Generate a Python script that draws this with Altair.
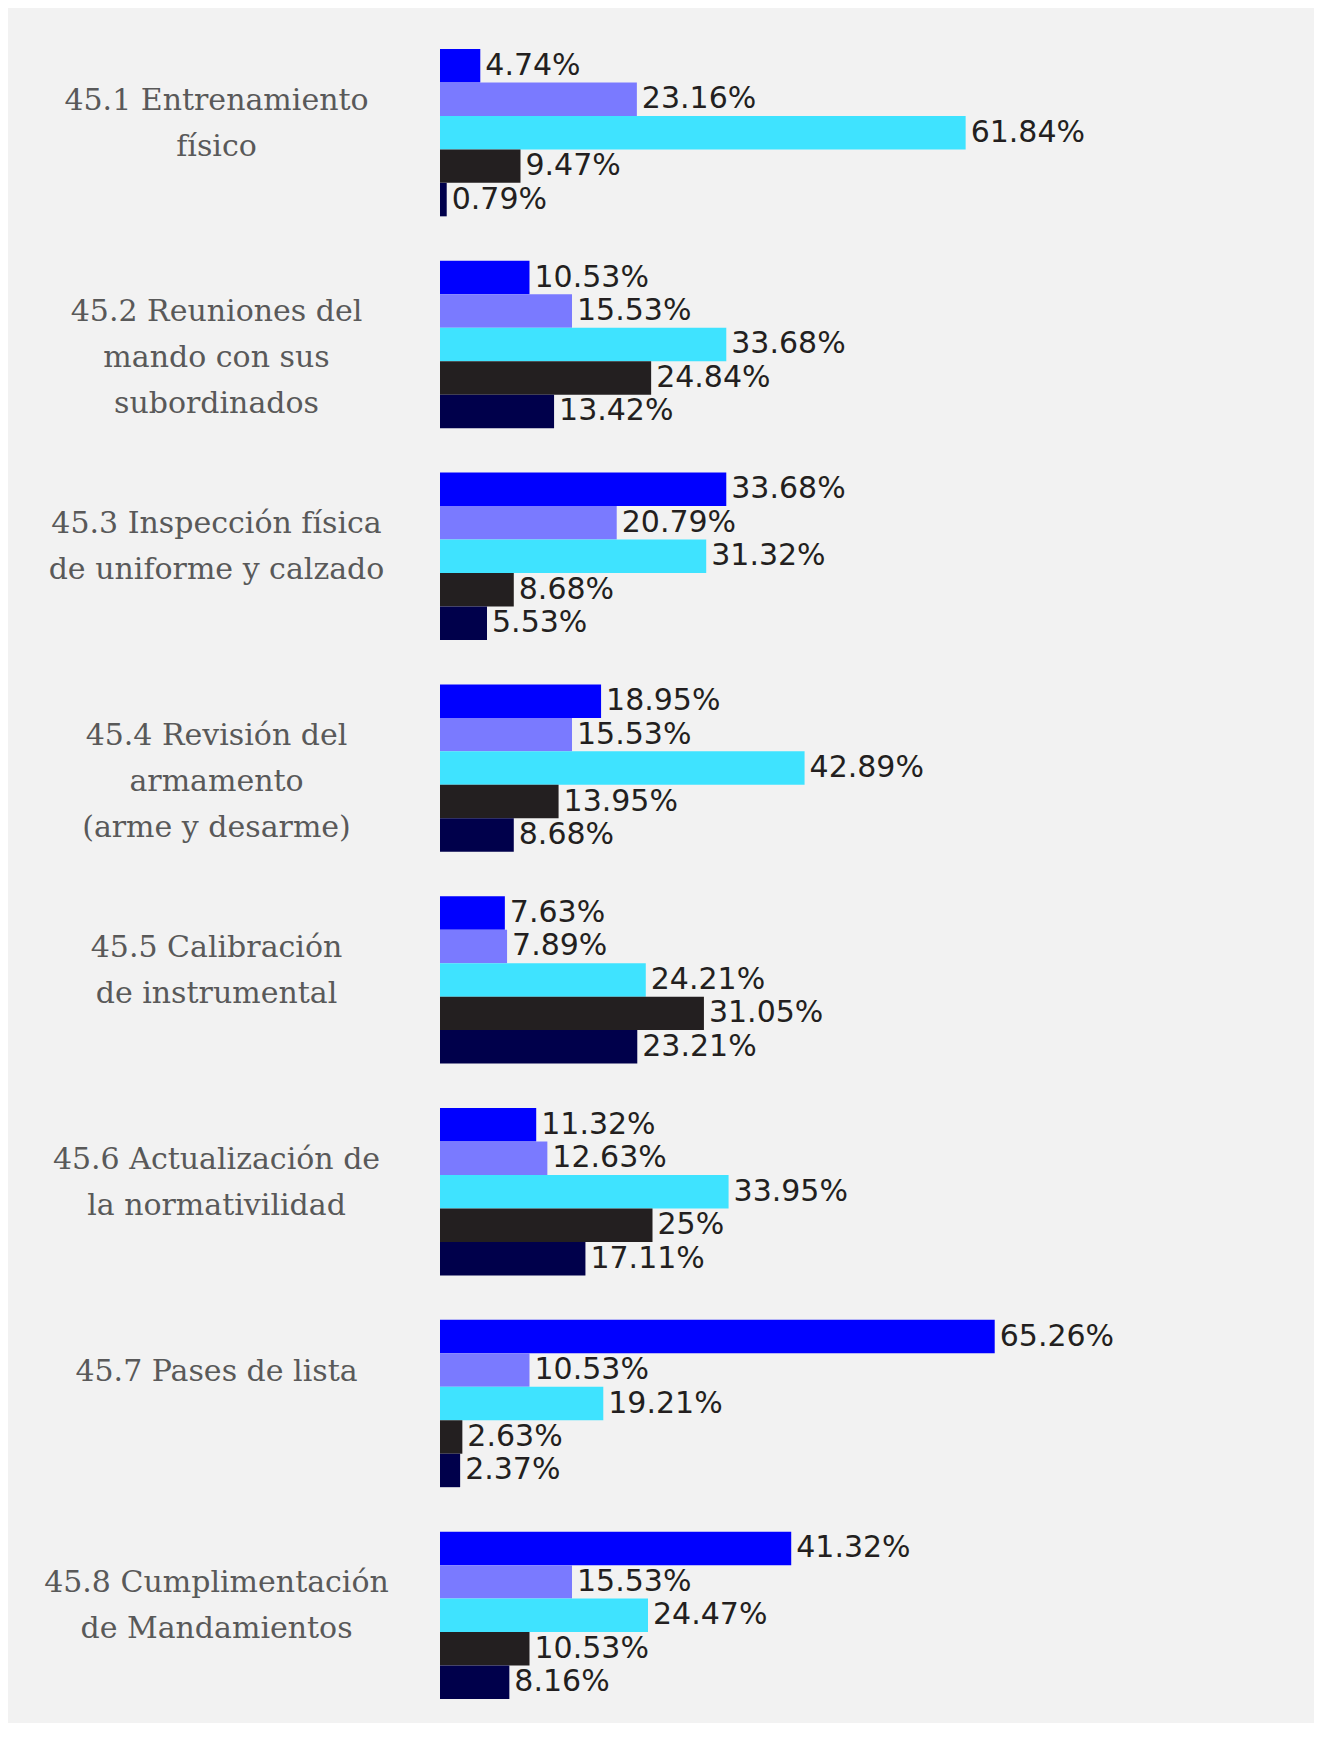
import altair as alt
import pandas as pd

categories = [
    "45.1 Entrenamiento|físico",
    "45.2 Reuniones del|mando con sus|subordinados",
    "45.3 Inspección física|de uniforme y calzado",
    "45.4 Revisión del|armamento|(arme y desarme)",
    "45.5 Calibración|de instrumental",
    "45.6 Actualización de|la normativilidad",
    "45.7 Pases de lista",
    "45.8 Cumplimentación|de Mandamientos",
]
series = ["Serie 1", "Serie 2", "Serie 3", "Serie 4", "Serie 5"]
colors = ["#0000ff", "#7a7aff", "#3fe3ff", "#231f20", "#00004b"]

s1 = [4.74, 10.53, 33.68, 18.95, 7.63, 11.32, 65.26, 41.32]
s2 = [23.16, 15.53, 20.79, 15.53, 7.89, 12.63, 10.53, 15.53]
s3 = [61.84, 33.68, 31.32, 42.89, 24.21, 33.95, 19.21, 24.47]
s4 = [9.47, 24.84, 8.68, 13.95, 31.05, 25, 2.63, 10.53]
s5 = [0.79, 13.42, 5.53, 8.68, 23.21, 17.11, 2.37, 8.16]

rows = []
for name, vals in zip(series, [s1, s2, s3, s4, s5]):
    for cat, v in zip(categories, vals):
        rows.append({"cat": cat, "series": name, "value": v, "label": f"{v:g}%"})
df = pd.DataFrame(rows)

y_enc = alt.Y("cat:N", sort=categories,
              scale=alt.Scale(paddingInner=0.21, paddingOuter=0),
              axis=alt.Axis(title=None, domain=False, ticks=False, tickSize=0,
                            labelPadding=224, labelAlign="center", labelBaseline="middle",
                            labelOffset=-32,
                            labelFont="DejaVu Serif", labelFontSize=30, labelColor="#595959",
                            labelLineHeight=46, labelLimit=0,
                            labelExpr="split(datum.label, '|')"))
yoff = alt.YOffset("series:N", sort=series, scale=alt.Scale(paddingInner=0, paddingOuter=0))
x_enc = alt.X("value:Q", scale=alt.Scale(domain=[0, 100]), axis=None)

bars = alt.Chart(df).mark_bar().encode(
    y=y_enc, yOffset=yoff, x=x_enc,
    color=alt.Color("series:N", sort=series,
                    scale=alt.Scale(domain=series, range=colors), legend=None),
)
texts = alt.Chart(df).mark_text(align="left", baseline="middle", dx=5,
                                font="DejaVu Sans", fontSize=30, color="#231f20").encode(
    y=y_enc, yOffset=yoff, x=x_enc, text="label:N",
)

chart = alt.layer(bars, texts).properties(
    width=850, height=1650,
    padding={"left": 432, "top": 41, "right": 24, "bottom": 24},
    autosize=alt.AutoSizeParams(type="none"),
    background="#f2f2f2",
).configure_view(stroke=None)

chart.save("out.html", embed_options={"renderer": "svg", "actions": False})
